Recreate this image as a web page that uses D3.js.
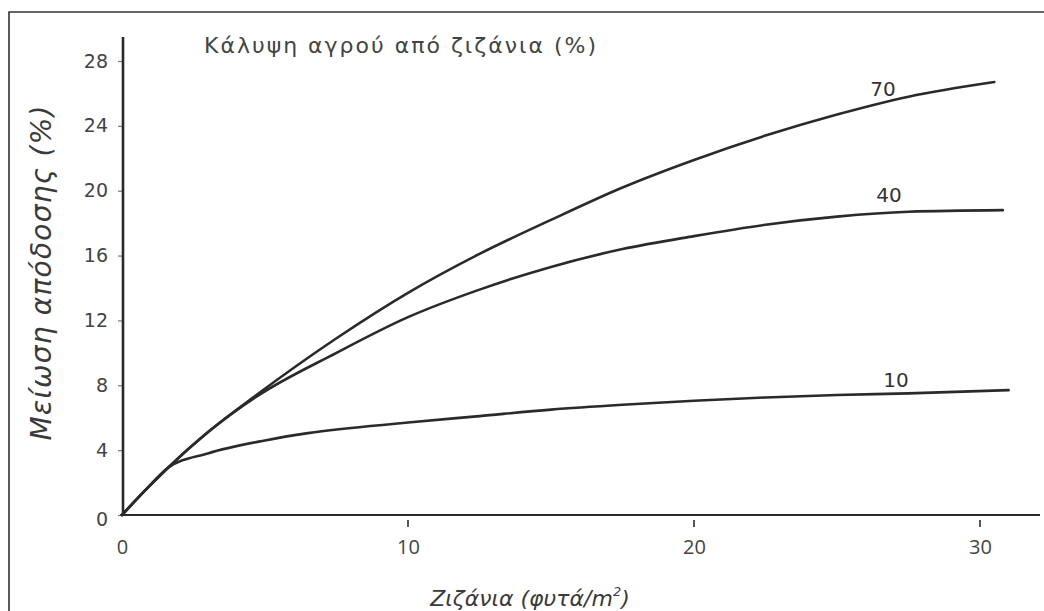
<!DOCTYPE html>
<html><head><meta charset="utf-8">
<script src="https://cdn.jsdelivr.net/npm/d3@7"></script>
<style>
html,body{margin:0;padding:0;background:#fff;}
svg{display:block;}
</style></head>
<body>
<svg id="chart" width="1044" height="611"></svg>
<script>
// ---- data ----
const seriesNames = ["70", "40", "10"];
const x70 = [0, 0.8, 1.6, 3, 4.7, 7.5, 10, 12.5, 15, 17.5, 20, 22.5, 25, 27.5, 30.5];
const y70 = [0, 1.5, 2.9, 5.1, 7.4, 10.9, 13.7, 16.1, 18.2, 20.2, 21.9, 23.4, 24.7, 25.8, 26.7];
const x40 = [0, 0.8, 1.6, 3, 4.7, 7.5, 10, 12.5, 15, 17.5, 20, 22.5, 25, 27.5, 30.8];
const y40 = [0, 1.5, 2.9, 5.1, 7.3, 10.0, 12.2, 13.9, 15.3, 16.4, 17.2, 17.9, 18.4, 18.7, 18.8];
const x10 = [0, 0.8, 1.6, 3, 5, 6.5, 10, 12.5, 15, 17.5, 20, 22.5, 25, 27.5, 31];
const y10 = [0, 1.5, 2.9, 3.8, 4.6, 5.05, 5.7, 6.1, 6.5, 6.8, 7.05, 7.25, 7.4, 7.5, 7.7];
const xTicks = [0, 10, 20, 30];
const yTicks = [0, 4, 8, 12, 16, 20, 24, 28];
const legendTitle = "Κάλυψη αγρού από ζιζάνια (%)";
const xTitle = "Ζιζάνια (φυτά/m";
const xTitleSup = "2";
const yTitle = "Μείωση απόδοσης (%)";

const svg = d3.select("#chart");
const x = d3.scaleLinear().domain([0, 30]).range([122, 980]);
const y = d3.scaleLinear().domain([0, 28]).range([515, 61]);
const ink = "#2a2a2a";
const textInk = "#444";

// outer frame (top and left edges visible)
svg.append("path").attr("d", "M9,611 V12 H1044")
  .attr("fill", "none").attr("stroke", "#333").attr("stroke-width", 1.6);

// x axis
const xAxis = svg.append("g").attr("transform", `translate(0,${y(0)})`)
  .call(d3.axisBottom(x).tickValues(xTicks).tickSize(0).tickPadding(0).tickFormat(d3.format("d")));
xAxis.select(".domain").remove();
xAxis.selectAll(".tick line").remove();
xAxis.append("line").attr("x1", x(0) - 2).attr("x2", 1040).attr("y1", 0).attr("y2", 0)
  .attr("stroke", ink).attr("stroke-width", 2.2);
xAxis.selectAll(".tick text").attr("y", 25)
  .attr("font-family", "'Open Sans', sans-serif").attr("font-size", 20)
  .attr("fill", textInk);
// small detached tick marks below the x axis
svg.append("g").selectAll("line").data(xTicks.filter(d => d !== 0)).join("line")
  .attr("x1", d => x(d)).attr("x2", d => x(d))
  .attr("y1", y(0) + 5).attr("y2", y(0) + 12)
  .attr("stroke", "#444").attr("stroke-width", 1.8);

// y axis
const yAxis = svg.append("g").attr("transform", `translate(${x(0) + 1},0)`)
  .call(d3.axisLeft(y).tickValues(yTicks).tickSize(5).tickPadding(10).tickFormat(d3.format("d")));
yAxis.select(".domain").remove();
yAxis.append("line").attr("x1", 0).attr("x2", 0).attr("y1", y(0)).attr("y2", 37)
  .attr("stroke", ink).attr("stroke-width", 2.6);
yAxis.selectAll(".tick line").attr("stroke", "#777").attr("stroke-width", 1.2);
yAxis.selectAll(".tick text")
  .attr("font-family", "'DejaVu Sans', sans-serif").attr("font-size", 19)
  .attr("fill", textInk);
yAxis.selectAll(".tick").filter(d => d === 0).select("text").attr("dy", "0.55em");

// curves
const series = [
  {name: seriesNames[0], xs: x70, ys: y70, lx: 883, ly: 96},
  {name: seriesNames[1], xs: x40, ys: y40, lx: 889, ly: 202},
  {name: seriesNames[2], xs: x10, ys: y10, lx: 896, ly: 387}
];
const line = d3.line().x(d => x(d[0])).y(d => y(d[1])).curve(d3.curveMonotoneX);
svg.append("g").selectAll("path").data(series).join("path")
  .attr("d", s => line(s.xs.map((v, i) => [v, s.ys[i]])))
  .attr("fill", "none").attr("stroke", ink).attr("stroke-width", 2.6)
  .attr("stroke-linecap", "round");

svg.append("g").selectAll("text").data(series).join("text")
  .attr("x", s => s.lx).attr("y", s => s.ly)
  .attr("text-anchor", "middle")
  .attr("font-family", "'DejaVu Sans', sans-serif").attr("font-size", 20)
  .attr("fill", "#333").text(s => s.name);

// legend title
svg.append("text").attr("x", 204).attr("y", 53)
  .attr("font-family", "'DejaVu Sans', sans-serif").attr("font-size", 22)
  .attr("fill", textInk).attr("textLength", 392).attr("lengthAdjust", "spacing")
  .text(legendTitle);

// y title
svg.append("text")
  .attr("transform", "translate(51,273) rotate(-90)")
  .attr("text-anchor", "middle")
  .attr("font-family", "'DejaVu Sans', sans-serif").attr("font-style", "italic")
  .attr("font-size", 28).attr("fill", "#3a3a3a")
  .attr("textLength", 335).attr("lengthAdjust", "spacing")
  .text(yTitle);

// x title
const xt = svg.append("text").attr("x", 530).attr("y", 606)
  .attr("text-anchor", "middle")
  .attr("font-family", "'DejaVu Sans', sans-serif").attr("font-style", "italic")
  .attr("font-size", 22).attr("fill", "#3a3a3a");
xt.append("tspan").text(xTitle);
xt.append("tspan").attr("font-size", 13).attr("dy", -10).text(xTitleSup);
xt.append("tspan").attr("dy", 10).text(")");
</script>
</body></html>
